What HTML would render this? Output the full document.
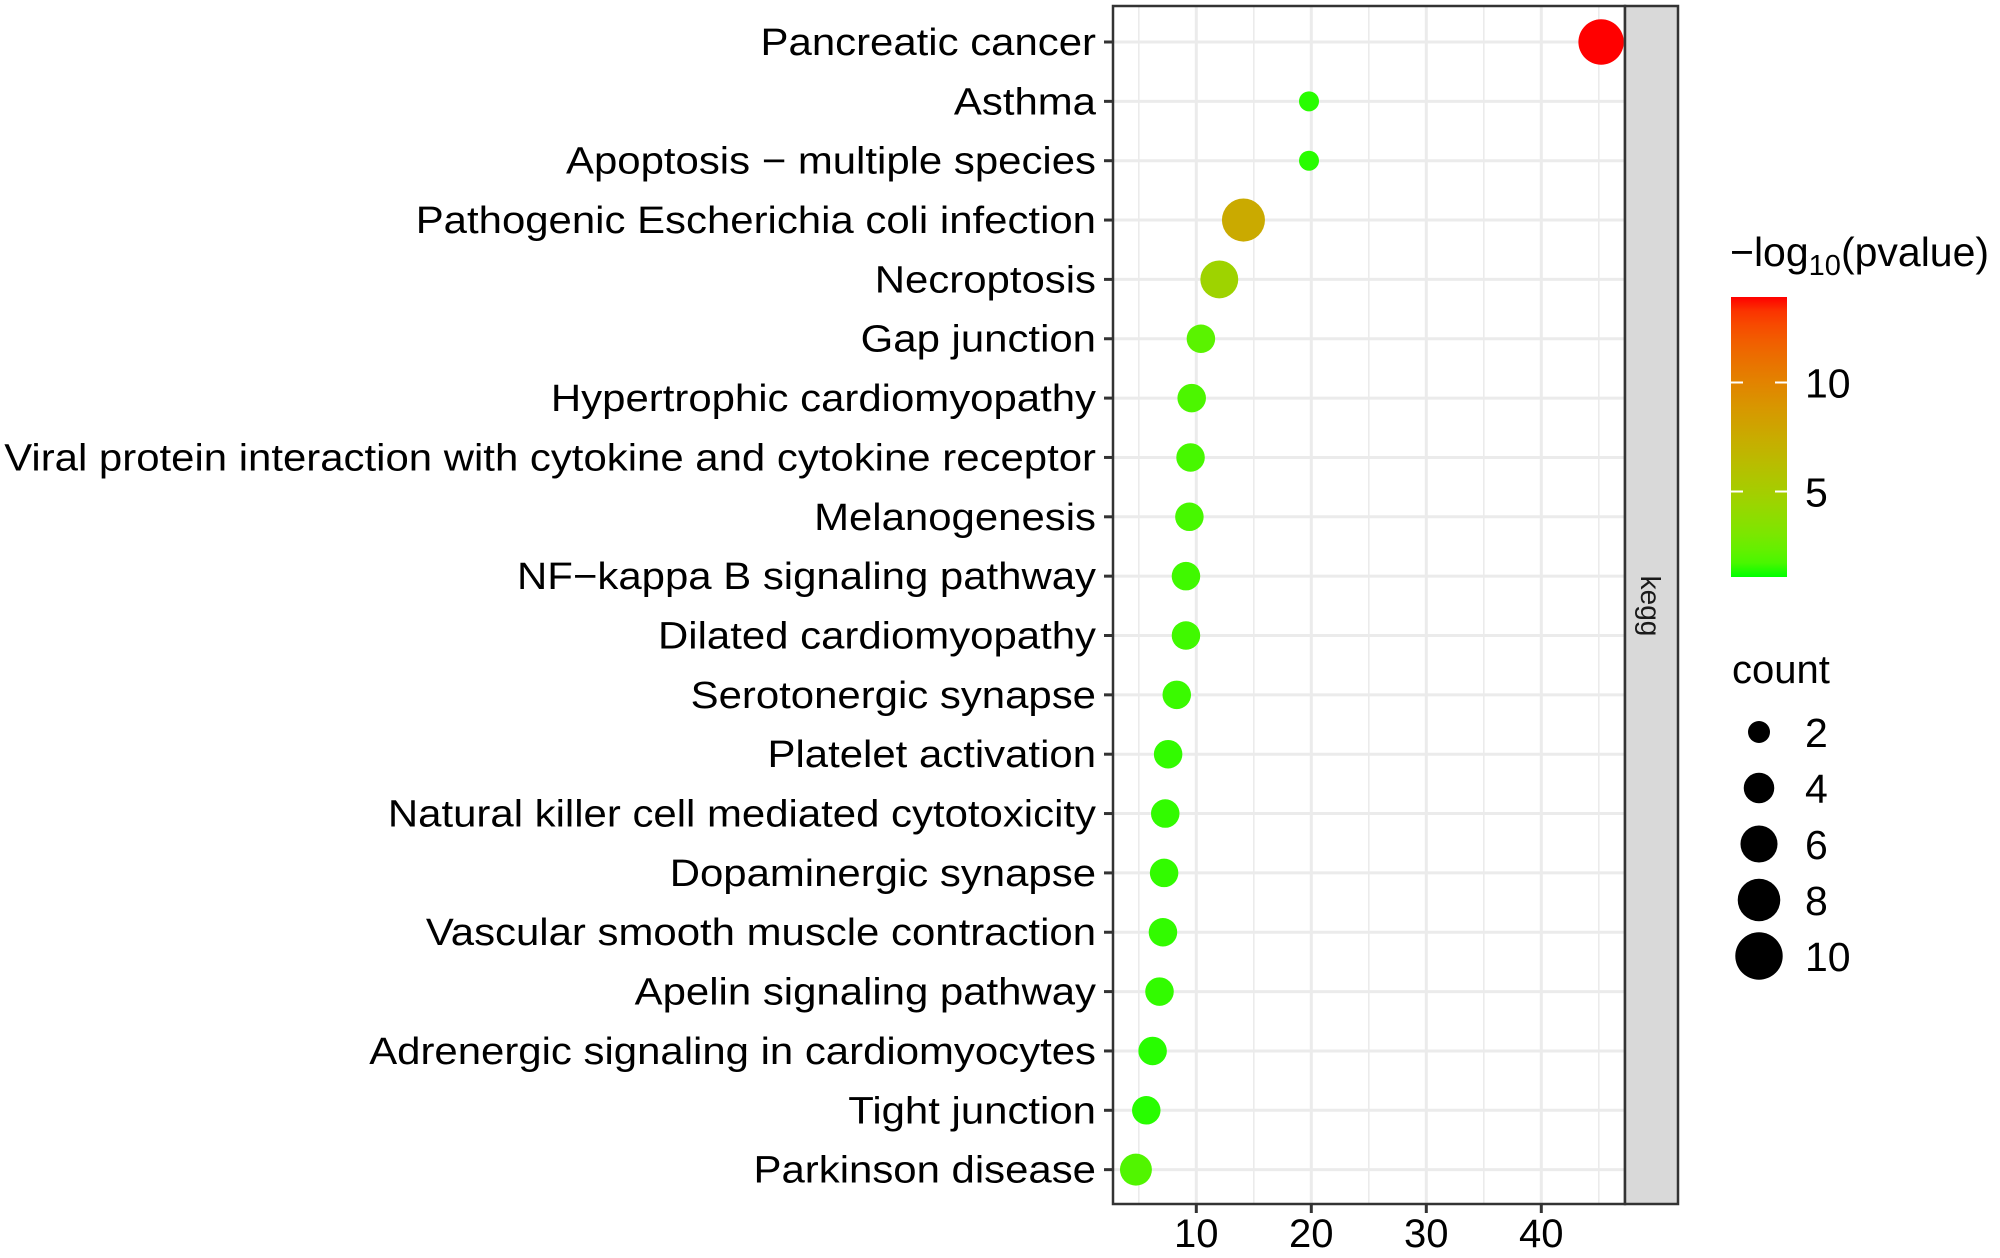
<!DOCTYPE html>
<html><head><meta charset="utf-8"><style>
html,body{margin:0;padding:0;background:#fff;}
svg{display:block;font-family:"Liberation Sans",Arial,sans-serif;}
</style></head><body>
<svg id="chart" width="2000" height="1258" viewBox="0 0 2000 1258" xmlns="http://www.w3.org/2000/svg">
<rect x="0" y="0" width="2000" height="1258" fill="#fff"/>
<g id="grid"></g>
<g id="points"></g>
<rect x="1113" y="6" width="512" height="1198" fill="none" stroke="#333" stroke-width="2.5"/>
<rect x="1625" y="6" width="53" height="1198" fill="#D9D9D9" stroke="#333" stroke-width="2.5"/>
<text x="0" y="0" font-size="28" fill="#1A1A1A" text-anchor="middle" transform="translate(1641,606) rotate(90)">kegg</text>
<g id="yaxis"></g>
<g id="xaxis"></g>
<g id="legend">
  <text x="1730" y="266" font-size="41" fill="#000">−log<tspan font-size="29" dy="9">10</tspan><tspan dy="-9">(pvalue)</tspan></text>
  <defs><linearGradient id="cg" x1="0" y1="1" x2="0" y2="0"></linearGradient></defs>
  <rect x="1731" y="297" width="56" height="280" fill="url(#cg)"/>
  <g id="cticks"></g>
  <text x="1732" y="683" font-size="40" fill="#000">count</text>
  <g id="skeys"></g>
</g>
</svg>
<script>
const categories = ["Pancreatic cancer","Asthma","Apoptosis \u2212 multiple species","Pathogenic Escherichia coli infection","Necroptosis","Gap junction","Hypertrophic cardiomyopathy","Viral protein interaction with cytokine and cytokine receptor","Melanogenesis","NF\u2212kappa B signaling pathway","Dilated cardiomyopathy","Serotonergic synapse","Platelet activation","Natural killer cell mediated cytotoxicity","Dopaminergic synapse","Vascular smooth muscle contraction","Apelin signaling pathway","Adrenergic signaling in cardiomyocytes","Tight junction","Parkinson disease"];
const ratios = [45.2,19.8,19.8,14.1,12.0,10.4,9.6,9.5,9.4,9.1,9.1,8.3,7.55,7.3,7.2,7.1,6.8,6.2,5.65,4.75];
const counts = [10,2,2,9,7,4,4,4,4,4,4,4,4,4,4,4,4,4,4,5];
const logp = [13.9,1.3,1.3,7.6,4.6,2.1,1.8,1.7,1.7,1.6,1.6,1.5,1.4,1.4,1.4,1.4,1.4,1.3,1.3,1.9];
const xTicks = [10,20,30,40];
const xMinor = [5,15,25,35,45];
const colorTicks = [5,10];
const sizeBreaks = [2,4,6,8,10];

const NS="http://www.w3.org/2000/svg";
function mk(tag,attrs,parent){const e=document.createElementNS(NS,tag);for(const k in attrs)e.setAttribute(k,attrs[k]);parent.appendChild(e);return e;}
const xScale = v => 1081.3 + v*11.5;
const yScale = i => 42 + i*59.35;
const cMin=1.1, cMax=13.9;
const cy = v => 576.5 - (v-cMin)/(cMax-cMin)*279;
const rScale = c => 10 + (Math.sqrt(c)-Math.sqrt(2))/(Math.sqrt(10)-Math.sqrt(2))*12.7;

function srgb2lin(c){c/=255;return c<=0.04045?c/12.92:Math.pow((c+0.055)/1.055,2.4);}
function lin2srgb(c){c=c<=0.0031308?12.92*c:1.055*Math.pow(c,1/2.4)-0.055;return Math.round(Math.max(0,Math.min(1,c))*255);}
function toLab(r,g,b){r=srgb2lin(r);g=srgb2lin(g);b=srgb2lin(b);
 let X=(0.4124*r+0.3576*g+0.1805*b)/0.95047,Y=0.2126*r+0.7152*g+0.0722*b,Z=(0.0193*r+0.1192*g+0.9505*b)/1.08883;
 const f=t=>t>0.008856?Math.cbrt(t):7.787*t+16/116;X=f(X);Y=f(Y);Z=f(Z);
 return [116*Y-16,500*(X-Y),200*(Y-Z)];}
function fromLab(L,a,b){let Y=(L+16)/116,X=a/500+Y,Z=Y-b/200;
 const fi=t=>t*t*t>0.008856?t*t*t:(t-16/116)/7.787;X=fi(X)*0.95047;Y=fi(Y);Z=fi(Z)*1.08883;
 const r=3.2406*X-1.5372*Y-0.4986*Z,g=-0.9689*X+1.8758*Y+0.0415*Z,bb=0.0557*X-0.2040*Y+1.0570*Z;
 return `rgb(${lin2srgb(r)},${lin2srgb(g)},${lin2srgb(bb)})`;}
const LG=toLab(0,255,0), LR=toLab(255,0,0);
function colorAt(v){const t=Math.max(0,Math.min(1,(v-cMin)/(cMax-cMin)));return fromLab(LG[0]+(LR[0]-LG[0])*t,LG[1]+(LR[1]-LG[1])*t,LG[2]+(LR[2]-LG[2])*t);}

const grid=document.getElementById('grid');
xMinor.forEach(v=>{const l=mk('line',{x1:xScale(v),x2:xScale(v),y1:7,y2:1203,stroke:'#EBEBEB','stroke-width':1.6},grid);

});
xTicks.forEach(v=>{const l=mk('line',{x1:xScale(v),x2:xScale(v),y1:7,y2:1203,stroke:'#EBEBEB','stroke-width':3},grid);

});
categories.forEach((c,i)=>{const l=mk('line',{x1:1114,x2:1624,y1:yScale(i),y2:yScale(i),stroke:'#EBEBEB','stroke-width':3},grid);

});

const pts=document.getElementById('points');
categories.forEach((c,i)=>{const e=mk('circle',{cx:xScale(ratios[i]),cy:yScale(i),r:rScale(counts[i]),fill:colorAt(logp[i])},pts);

});

const ya=document.getElementById('yaxis');
const lg=mk('g',{},ya);
categories.forEach((c,i)=>{
 const t=mk('line',{x1:1104,x2:1113,y1:yScale(i),y2:yScale(i),stroke:'#333','stroke-width':3},ya);
 
 
 const tx=mk('text',{x:0,y:yScale(i)+13,'font-size':38,'text-anchor':'end',fill:'#000'},lg);
 tx.textContent=c;
 
 });
const longest=lg.children[7].getComputedTextLength();
const k=longest>0?1092/longest:1;
lg.setAttribute('transform',`translate(1096,0) scale(${k},1)`);

const xa=document.getElementById('xaxis');
xTicks.forEach(v=>{
 const t=mk('line',{x1:xScale(v),x2:xScale(v),y1:1204,y2:1213,stroke:'#333','stroke-width':3},xa);
 
 
 const tx=mk('text',{x:xScale(v),y:1247,'font-size':40,'text-anchor':'middle',fill:'#000'},xa);
 tx.textContent=v;
 
 });

const grad=document.getElementById('cg');
for(let s=0;s<=20;s++){const v=cMin+(cMax-cMin)*s/20;mk('stop',{offset:(s/20),'stop-color':colorAt(v)},grad);}
const ct=document.getElementById('cticks');
colorTicks.forEach(v=>{
 const y=cy(v);
 const a=mk('line',{x1:1731,x2:1743,y1:y,y2:y,stroke:'#fff','stroke-width':2},ct);
 
 
 const b=mk('line',{x1:1775,x2:1787,y1:y,y2:y,stroke:'#fff','stroke-width':2},ct);
 
 
 const tx=mk('text',{x:1805,y:y+15,'font-size':41,fill:'#000'},ct);
 tx.textContent=v;
 
 });

const sk=document.getElementById('skeys');
sizeBreaks.forEach((c,i)=>{
 const y=732+i*56;
 const e=mk('circle',{cx:1759,cy:y,r:rScale(c)+1,fill:'#000'},sk);
 
 
 const tx=mk('text',{x:1805,y:y+15,'font-size':41,fill:'#000'},sk);
 tx.textContent=c;
 
 });
</script>
</body></html>
